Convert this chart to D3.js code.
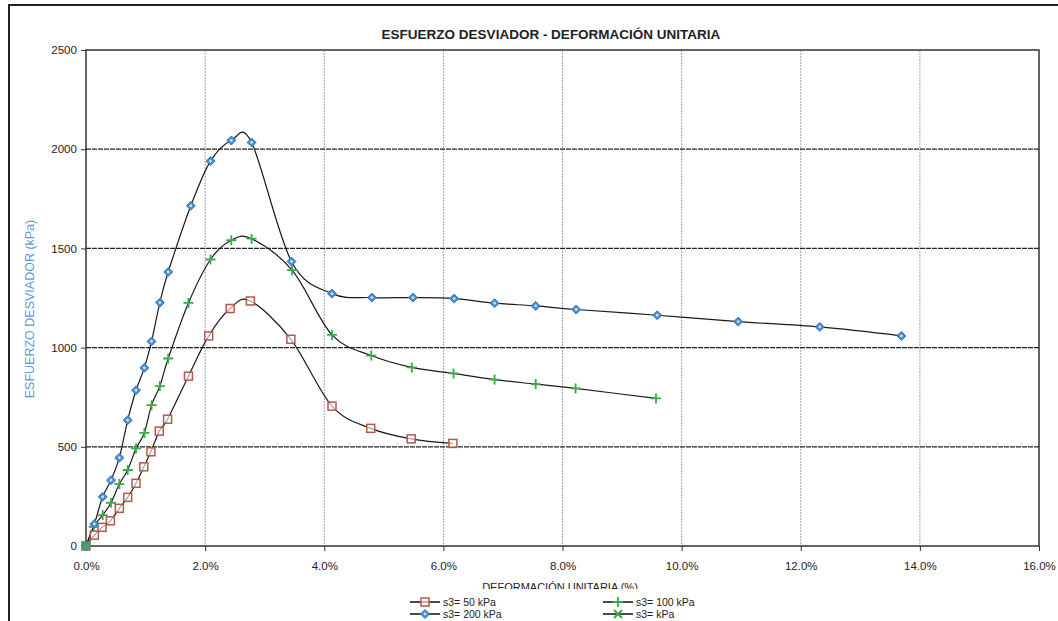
<!DOCTYPE html>
<html><head><meta charset="utf-8">
<script src="https://cdn.jsdelivr.net/npm/d3@7"></script>
<style>body{margin:0;background:#fff}svg{display:block}text{font-family:"Liberation Sans",Arial,sans-serif}</style>
</head><body><svg id="c" width="1058" height="621"></svg>
<script>
const title = "ESFUERZO DESVIADOR - DEFORMACIÓN UNITARIA";
const yLabel = "ESFUERZO DESVIADOR (kPa)";
const xLabel = "DEFORMACIÓN UNITARIA (%)";
const xTicks = [0,2,4,6,8,10,12,14,16];
const yTicks = [0,500,1000,1500,2000,2500];
const seriesNames = ["s3= 50 kPa","s3= 100 kPa","s3= 200 kPa","s3= kPa"];

const strain50 = [0,0.14,0.27,0.41,0.56,0.70,0.84,0.97,1.09,1.23,1.37,1.72,2.06,2.42,2.76,3.44,4.13,4.78,5.46,6.16];
const stress50 = [0,55,94,127,190,245,316,399,475,579,639,856,1059,1197,1235,1042,705,593,540,517];

const strain100 = [0,0.13,0.28,0.42,0.56,0.70,0.84,0.98,1.10,1.24,1.38,1.72,2.09,2.44,2.78,3.46,4.13,4.79,5.47,6.17,6.86,7.55,8.22,9.57];
const stress100 = [0,97,156,218,312,383,492,570,710,806,945,1225,1444,1541,1549,1390,1064,960,900,870,839,816,794,744];

const strain200 = [0,0.14,0.28,0.42,0.56,0.70,0.84,0.98,1.10,1.24,1.38,1.76,2.09,2.44,2.78,3.45,4.13,4.80,5.49,6.18,6.86,7.55,8.23,9.59,10.95,12.32,13.69];
const stress200 = [0,111,248,332,445,634,785,898,1031,1227,1381,1715,1940,2044,2034,1434,1272,1252,1252,1247,1224,1210,1192,1163,1131,1104,1059];

const strainX = [];
const stressX = [];

const svg = d3.select("#c");
const L=86,R=1039,T=50,B=546;
const x = d3.scaleLinear().domain([0,16]).range([L,R]);
const y = d3.scaleLinear().domain([0,2500]).range([B,T]);

// outer frame
svg.append("line").attr("x1",9).attr("x2",1058).attr("y1",5).attr("y2",5).attr("stroke","#222").attr("stroke-width",2);
svg.append("line").attr("x1",9).attr("x2",9).attr("y1",4).attr("y2",621).attr("stroke","#222").attr("stroke-width",2);

// grid
svg.append("g").selectAll("line").data(xTicks.slice(1,-1)).join("line")
  .attr("x1",d=>x(d)).attr("x2",d=>x(d)).attr("y1",T).attr("y2",B)
  .attr("stroke","#9aa4ad").attr("stroke-width",1).attr("stroke-dasharray","2,1");
svg.append("g").selectAll("line").data(yTicks.slice(1,-1)).join("line")
  .attr("x1",L).attr("x2",R).attr("y1",d=>y(d)).attr("y2",d=>y(d))
  .attr("stroke","#222").attr("stroke-width",1.2).attr("stroke-dasharray","5,1");

svg.append("rect").attr("x",L).attr("y",T).attr("width",R-L).attr("height",B-T)
  .attr("fill","none").attr("stroke","#333").attr("stroke-width",1.5);

// axes
const xa = svg.append("g").attr("transform",`translate(0,${B})`)
  .call(d3.axisBottom(x).tickValues(xTicks).tickFormat(d=>d.toFixed(1)+"%").tickSize(5).tickSizeOuter(0));
const ya = svg.append("g").attr("transform",`translate(${L},0)`)
  .call(d3.axisLeft(y).tickValues(yTicks).tickFormat(d3.format("d")).tickSize(5).tickSizeOuter(0));
[xa,ya].forEach(g=>{g.select(".domain").remove();g.selectAll("line").attr("stroke","#333");
  g.selectAll("text").attr("font-size",11.5).attr("fill","#222").attr("font-family","'Liberation Sans',Arial,sans-serif");});
xa.selectAll("text").attr("dy","1.35em");
ya.selectAll("text").attr("dx","-0.1em");

// title
svg.append("text").attr("x",551).attr("y",39).attr("text-anchor","middle")
  .attr("font-size",13.5).attr("font-weight","bold").attr("fill","#222").text(title);
svg.append("text").attr("transform","translate(34,309) rotate(-90)").attr("text-anchor","middle")
  .attr("font-size",12.5).attr("fill","#5b9bd5").text(yLabel);

// x label partially covered by legend box (as in reference)
svg.append("text").attr("x",560).attr("y",591).attr("text-anchor","middle")
  .attr("font-size",11).attr("fill","#222").text(xLabel);
svg.append("rect").attr("x",380).attr("y",589).attr("width",370).attr("height",32).attr("fill","#fff");

const line = d3.line().x(d=>x(d[0])).y(d=>y(d[1])).curve(d3.curveCatmullRom.alpha(0));
const series = [
  {name:seriesNames[0], xs:strain50, ys:stress50, color:"#b5584a", mark:"square"},
  {name:seriesNames[1], xs:strain100, ys:stress100, color:"#3aaa47", mark:"plus"},
  {name:seriesNames[2], xs:strain200, ys:stress200, color:"#4a8dcc", mark:"diamond"},
  {name:seriesNames[3], xs:strainX, ys:stressX, color:"#3aaa47", mark:"x"}
];

function marker(g, type, color, cx, cy){
  if(type==="square"){
    g.append("rect").attr("x",cx-4).attr("y",cy-4).attr("width",8).attr("height",8)
      .attr("fill","#fff").attr("fill-opacity",0.6).attr("stroke",color).attr("stroke-width",1.5);
  } else if(type==="diamond"){
    g.append("path").attr("d",`M${cx},${cy-4.5}L${cx+4.5},${cy}L${cx},${cy+4.5}L${cx-4.5},${cy}Z`)
      .attr("fill",color).attr("stroke","#3a78b8").attr("stroke-width",1);
    g.append("circle").attr("cx",cx).attr("cy",cy).attr("r",1.4).attr("fill","#cfe0f0");
  } else if(type==="plus"){
    g.append("path").attr("d",`M${cx-5},${cy}H${cx+5}M${cx},${cy-5}V${cy+5}`)
      .attr("stroke",color).attr("stroke-width",1.8);
  } else {
    g.append("path").attr("d",`M${cx-4},${cy-4}L${cx+4},${cy+4}M${cx+4},${cy-4}L${cx-4},${cy+4}`)
      .attr("stroke",color).attr("stroke-width",2);
  }
}

series.forEach(s=>{
  const pts = s.xs.map((v,i)=>[v,s.ys[i]]);
  if(pts.length>1) svg.append("path").datum(pts).attr("d",line).attr("fill","none")
    .attr("stroke","#1a1a1a").attr("stroke-width",1.2);
});
series.forEach(s=>{
  const g = svg.append("g");
  s.xs.forEach((v,i)=>marker(g,s.mark,s.color,x(v),y(s.ys[i])));
});
// origin marker seen in reference
marker(svg.append("g"),"x","#3aaa47",x(0),y(0));

// legend
const legPos = [[410,602],[603,602],[410,614],[603,614]];
series.forEach((s,i)=>{
  const [lx,ly]=legPos[i];
  const g = svg.append("g");
  g.append("line").attr("x1",lx).attr("x2",lx+30).attr("y1",ly).attr("y2",ly).attr("stroke","#111").attr("stroke-width",1.5);
  marker(g,s.mark,s.color,lx+15,ly);
  g.append("text").attr("x",lx+33).attr("y",ly+4).attr("font-size",10.5).attr("fill","#222").text(s.name);
});
</script></body></html>
